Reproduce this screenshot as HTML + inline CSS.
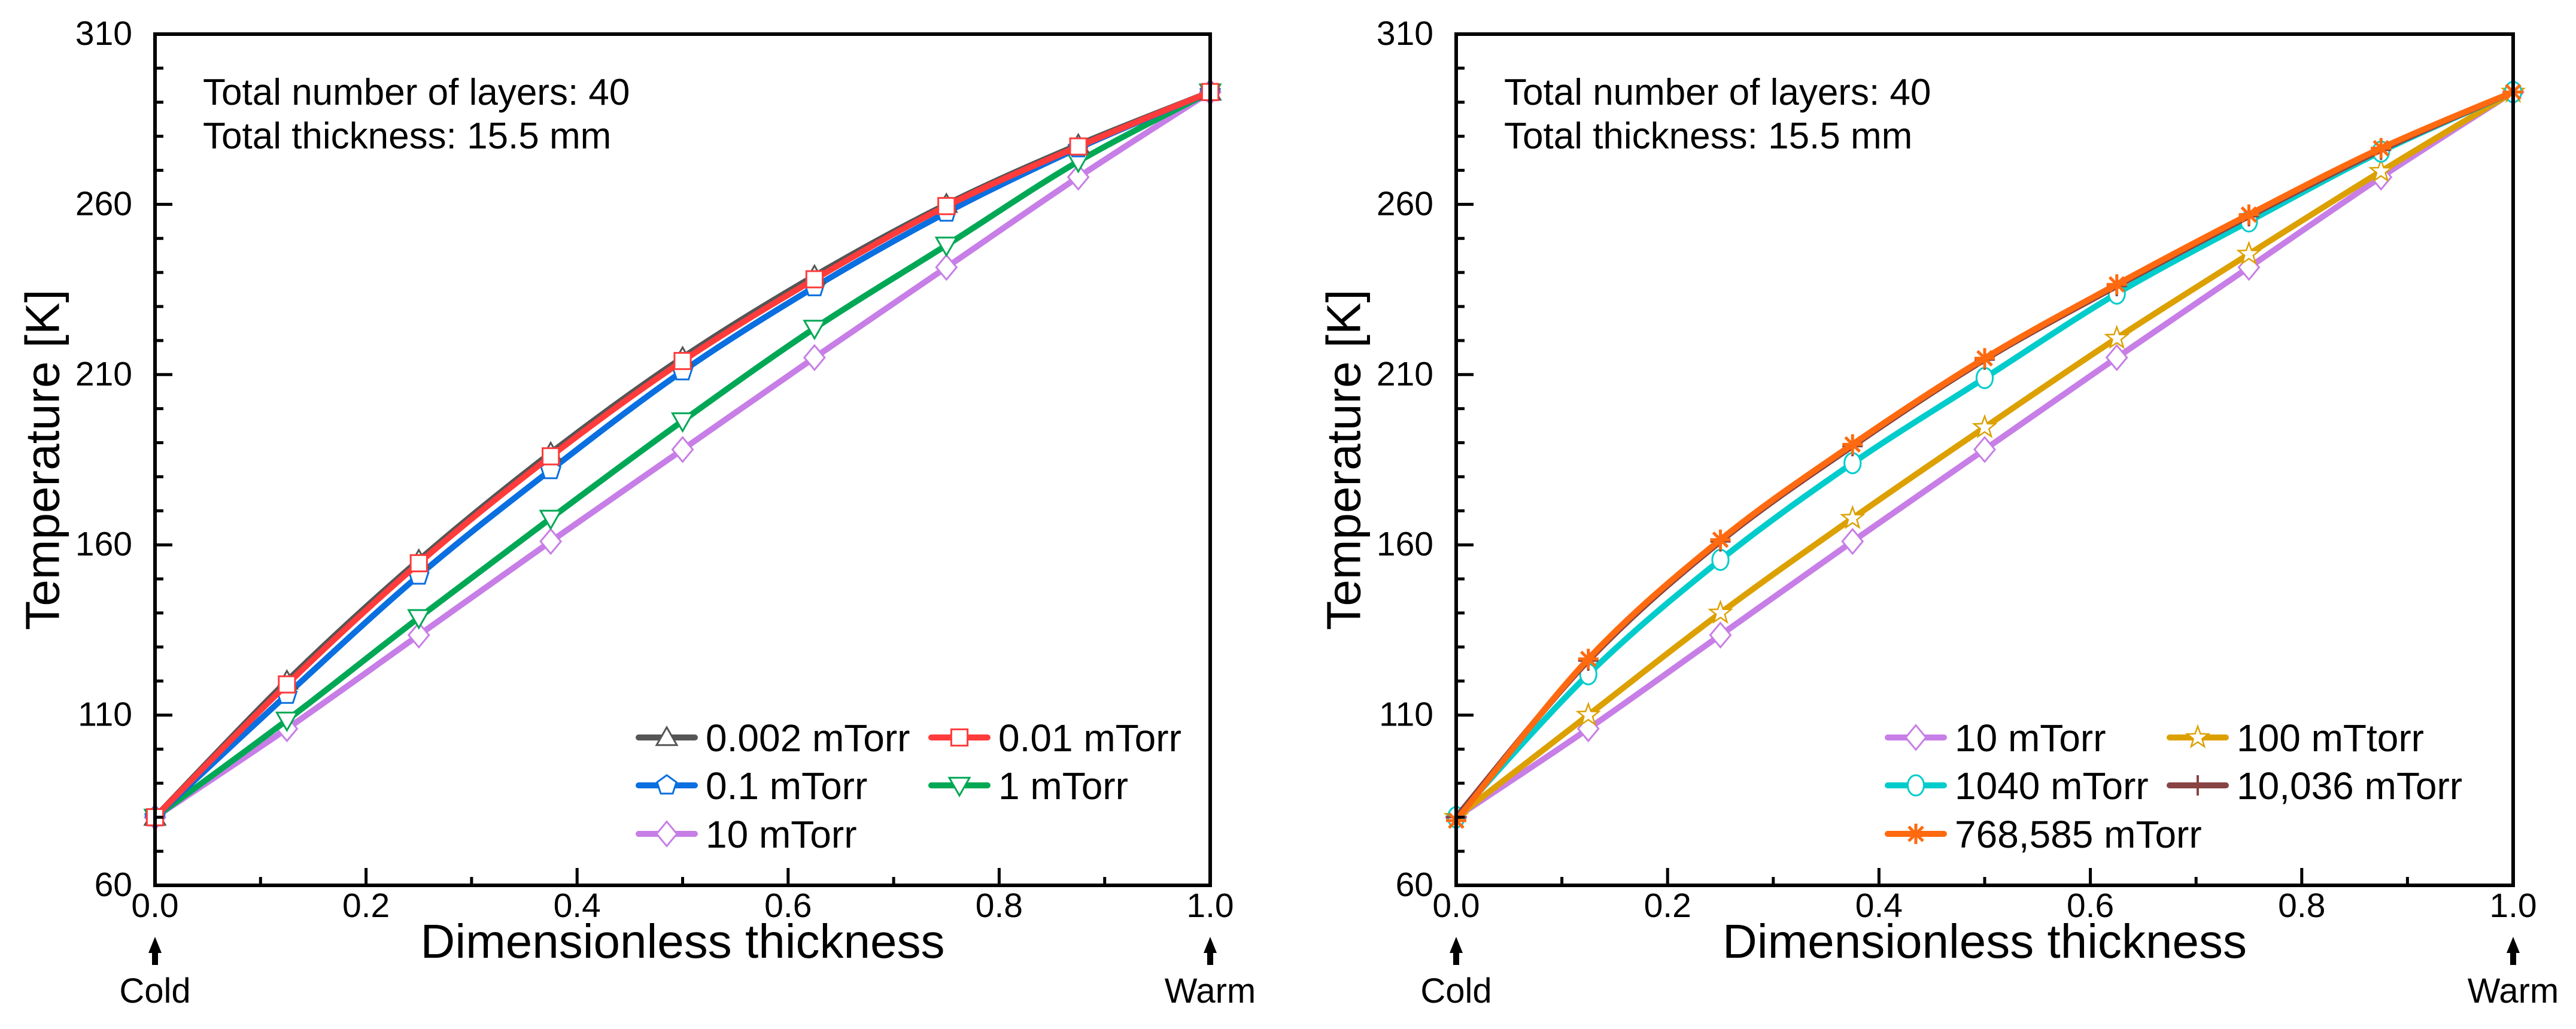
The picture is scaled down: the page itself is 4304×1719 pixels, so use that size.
<!DOCTYPE html>
<html><head><meta charset="utf-8"><style>
html,body{margin:0;padding:0;background:#fff;}
svg{display:block;font-family:"Liberation Sans",Arial,sans-serif;}
</style></head><body>
<svg id="chart" width="4304" height="1719" viewBox="0 0 4304 1719" xmlns="http://www.w3.org/2000/svg"></svg>
<script>
const xPoints = [0, 0.125, 0.25, 0.375, 0.5, 0.625, 0.75, 0.875, 1.0];
const yTickLabels = [60, 110, 160, 210, 260, 310];
const xTickLabels = ["0.0", "0.2", "0.4", "0.6", "0.8", "1.0"];
const xTickValues = [0, 0.2, 0.4, 0.6, 0.8, 1.0];
const leftSeriesNames = ["0.002 mTorr", "0.01 mTorr", "0.1 mTorr", "1 mTorr", "10 mTorr"];
const t0002 = [80, 120, 155.5, 187, 215, 239, 260, 277.5, 293];
const t001 = [80, 119, 154.6, 186, 214, 238, 259.5, 277, 293];
const t01 = [80, 116, 151, 182, 211, 235.7, 257.6, 276.5, 293];
const t1 = [80, 108.5, 138.6, 167.8, 196.4, 223.6, 248, 272.6, 293];
const t10 = [80, 106, 133.5, 161, 188, 215, 241.5, 268, 293];
const rightSeriesNames = ["10 mTorr", "100 mTtorr", "1040 mTorr", "10,036 mTorr", "768,585 mTorr"];
const t100 = [80, 110, 140, 167.8, 194.5, 220.7, 245.4, 269.7, 293];
const t1040 = [80, 122, 155.6, 184, 209, 233.8, 255, 275.5, 293];
const t10036 = [80, 126, 161, 189, 214.4, 236, 256.5, 276, 293];
const t768585 = [79, 126.5, 161.5, 189.5, 214.8, 236.5, 257, 276.5, 293];

const NS = "http://www.w3.org/2000/svg";
const svg = document.getElementById("chart");
function mk(tag, attrs, parent, text){
  const e = document.createElementNS(NS, tag);
  for (const k in attrs) e.setAttribute(k, attrs[k]);
  if (text !== undefined) e.textContent = text;
  (parent || svg).appendChild(e);
  return e;
}
const Y0 = 1479, Y1 = 57, YMIN = 60, YMAX = 310;
function yS(v){ return Y0 - (v - YMIN) / (YMAX - YMIN) * (Y0 - Y1); }

function marker(g, type, cx, cy, color){
  const s = 17, sw = 3;
  let e;
  if (type === "tri") e = mk("polygon", {points:`${cx},${cy-s} ${cx-s},${cy+s*0.75} ${cx+s},${cy+s*0.75}`, fill:"#fff", stroke:color, "stroke-width":sw}, g);
  else if (type === "tridown") e = mk("polygon", {points:`${cx},${cy+s} ${cx-s},${cy-s*0.75} ${cx+s},${cy-s*0.75}`, fill:"#fff", stroke:color, "stroke-width":sw}, g);
  else if (type === "sq") e = mk("rect", {x:cx-s*0.8, y:cy-s*0.8, width:s*1.6, height:s*1.6, fill:"#fff", stroke:color, "stroke-width":sw}, g);
  else if (type === "pent"){
    let p=[]; for(let i=0;i<5;i++){const a=-Math.PI/2+i*2*Math.PI/5; p.push((cx+s*Math.cos(a))+","+(cy+s*Math.sin(a)));}
    e = mk("polygon", {points:p.join(" "), fill:"#fff", stroke:color, "stroke-width":sw}, g);
  }
  else if (type === "dia") e = mk("polygon", {points:`${cx},${cy-s*1.2} ${cx-s},${cy} ${cx},${cy+s*1.2} ${cx+s},${cy}`, fill:"#fff", stroke:color, "stroke-width":sw}, g);
  else if (type === "circ") e = mk("ellipse", {cx:cx, cy:cy, rx:s*0.8, ry:s, fill:"#fff", stroke:color, "stroke-width":sw}, g);
  else if (type === "star"){
    let p=[]; for(let i=0;i<10;i++){const r=i%2?s*0.45:s*1.1; const a=-Math.PI/2+i*Math.PI/5; p.push((cx+r*Math.cos(a))+","+(cy+r*Math.sin(a)));}
    e = mk("polygon", {points:p.join(" "), fill:"#fff", stroke:color, "stroke-width":2.5}, g);
  }
  else if (type === "plus"){
    e = mk("path", {d:`M${cx-s},${cy}H${cx+s}M${cx},${cy-s}V${cy+s}`, stroke:color, "stroke-width":4, fill:"none"}, g);
  }
  else if (type === "ast"){
    let d=""; for(let i=0;i<4;i++){const a=i*Math.PI/4+Math.PI/2; d+=`M${cx-s*Math.cos(a)},${cy-s*Math.sin(a)}L${cx+s*Math.cos(a)},${cy+s*Math.sin(a)}`;}
    e = mk("path", {d:d, stroke:color, "stroke-width":5, fill:"none"}, g);
  }
  
  
}

function curvePath(xs, ys, xS){
  const P = xs.map((x,i)=>[xS(x), yS(ys[i])]);
  let d = `M${P[0][0]},${P[0][1]}`;
  for (let i=0;i<P.length-1;i++){
    const p0=P[Math.max(0,i-1)], p1=P[i], p2=P[i+1], p3=P[Math.min(P.length-1,i+2)];
    const c1=[p1[0]+(p2[0]-p0[0])/6, p1[1]+(p2[1]-p0[1])/6];
    const c2=[p2[0]-(p3[0]-p1[0])/6, p2[1]-(p3[1]-p1[1])/6];
    d += ` C${c1[0]},${c1[1]} ${c2[0]},${c2[1]} ${p2[0]},${p2[1]}`;
  }
  return d;
}

function panel(X0, X1, name, series, legend){
  const g = mk("g", {});
  
  
  const xS = v => X0 + v * (X1 - X0);
  series.forEach(s=>{
    const sg = mk("g", {}, g);
    
    
    const p = mk("path", {d:curvePath(xPoints, s.data, xS), fill:"none", stroke:s.color, "stroke-width":10, "stroke-linejoin":"round"}, sg);
    
    
    xPoints.forEach((x,i)=> marker(sg, s.m, xS(x), yS(s.data[i]), s.color));
  });
  const fr = mk("rect", {x:X0, y:Y1, width:X1-X0, height:Y0-Y1, fill:"none", stroke:"#000", "stroke-width":6}, g);
  
  
  for (let v=60; v<=310; v+=10){
    const maj = (v-60)%50===0;
    const t = mk("line", {x1:X0, x2:X0+(maj?29:14), y1:yS(v), y2:yS(v), stroke:"#000", "stroke-width":5}, g);
    
    
  }
  yTickLabels.forEach(v=>{
    const t = mk("text", {x:X0-38, y:yS(v)+18, "text-anchor":"end", "font-size":57}, g, String(v));
    
    
  });
  for (let k=1; k<10; k++){
    const maj = k%2===0;
    const t = mk("line", {x1:xS(k/10), x2:xS(k/10), y1:Y0, y2:Y0-(maj?29:14), stroke:"#000", "stroke-width":5}, g);
    
    
  }
  xTickValues.forEach((v,i)=>{
    const t = mk("text", {x:xS(v), y:1532, "text-anchor":"middle", "font-size":57}, g, xTickLabels[i]);
    
    
  });
  [[0,"Cold"],[1,"Warm"]].forEach(([v,lab])=>{
    const a = mk("path", {d:`M${xS(v)},1565 L${xS(v)-11},1592 L${xS(v)-5},1592 L${xS(v)-5},1612 L${xS(v)+5},1612 L${xS(v)+5},1592 L${xS(v)+11},1592 Z`, fill:"#000"}, g);
    
    
    const t = mk("text", {x:xS(v), y:1675, "text-anchor":"middle", "font-size":58}, g, lab);
    
    
  });
  const xt = mk("text", {x:(X0+X1)/2, y:1600, "text-anchor":"middle", "font-size":80}, g, "Dimensionless thickness");
  
  
  const yx = X0 - 188;
  const yt = mk("text", {x:yx, y:768, "text-anchor":"middle", "font-size":80, transform:`rotate(-90 ${yx} 768)`, "dominant-baseline":"central"}, g, "Temperature [K]");
  
  
  const a1 = mk("text", {x:X0+80, y:175, "font-size":62}, g, "Total number of layers: 40");
  
  
  const a2 = mk("text", {x:X0+80, y:248, "font-size":62}, g, "Total thickness: 15.5 mm");
  
  
  const lg = mk("g", {}, g);
  
  
  legend.forEach(L=>{
    const s = series.find(q=>q.id===L.id);
    const eg = mk("g", {}, lg);
    
    
    mk("line", {x1:L.x, x2:L.x+94, y1:L.y, y2:L.y, stroke:s.color, "stroke-width":10, "stroke-linecap":"round"}, eg);
    marker(eg, s.m, L.x+47, L.y, s.color);
    mk("text", {x:L.x+112, y:L.y+23, "font-size":64}, eg, s.name);
  });
}

const left = [
  {id:"series-10-mtorr", name:leftSeriesNames[4], data:t10, color:"#c77ee6", m:"dia"},
  {id:"series-1-mtorr", name:leftSeriesNames[3], data:t1, color:"#00a855", m:"tridown"},
  {id:"series-0-1-mtorr", name:leftSeriesNames[2], data:t01, color:"#0a6fe0", m:"pent"},
  {id:"series-0-002-mtorr", name:leftSeriesNames[0], data:t0002, color:"#555555", m:"tri"},
  {id:"series-0-01-mtorr", name:leftSeriesNames[1], data:t001, color:"#ff3b3b", m:"sq"}
];
panel(259, 2022, "left-panel", left, [
  {id:"series-0-002-mtorr", x:1067, y:1232},
  {id:"series-0-01-mtorr", x:1556, y:1232},
  {id:"series-0-1-mtorr", x:1067, y:1312},
  {id:"series-1-mtorr", x:1556, y:1312},
  {id:"series-10-mtorr", x:1067, y:1393}
]);
const right = [
  {id:"series-10-mtorr", name:rightSeriesNames[0], data:t10, color:"#c77ee6", m:"dia"},
  {id:"series-100-mtorr", name:rightSeriesNames[1], data:t100, color:"#dca000", m:"star"},
  {id:"series-1040-mtorr", name:rightSeriesNames[2], data:t1040, color:"#00cccc", m:"circ"},
  {id:"series-10036-mtorr", name:rightSeriesNames[3], data:t10036, color:"#884444", m:"plus"},
  {id:"series-768585-mtorr", name:rightSeriesNames[4], data:t768585, color:"#ff6a10", m:"ast"}
];
panel(2433, 4199, "right-panel", right, [
  {id:"series-10-mtorr", x:3154, y:1232},
  {id:"series-100-mtorr", x:3625, y:1232},
  {id:"series-1040-mtorr", x:3154, y:1312},
  {id:"series-10036-mtorr", x:3625, y:1312},
  {id:"series-768585-mtorr", x:3154, y:1393}
]);
</script>
</body></html>
